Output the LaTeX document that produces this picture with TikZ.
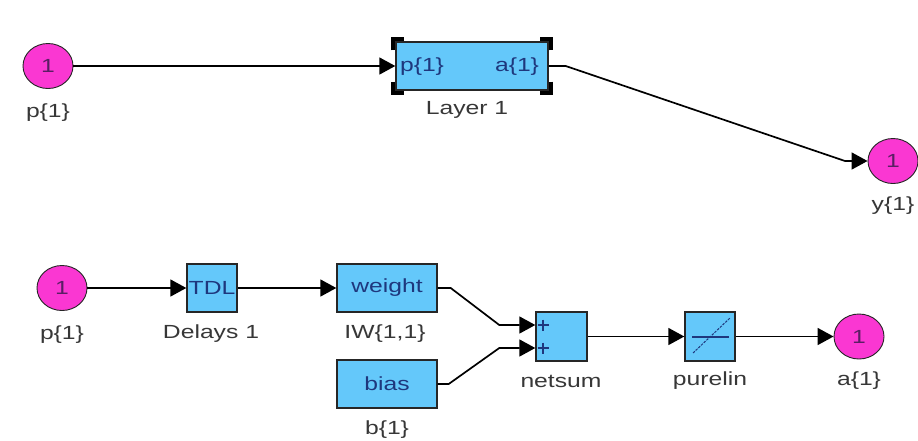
\documentclass[tikz,border=0pt]{standalone}
\usepackage{fontspec}
\setmainfont{Liberation Sans}[FakeStretch=1.3]
\usetikzlibrary{arrows.meta,shapes.geometric}
\definecolor{boxblue}{RGB}{100,200,250}
\definecolor{pinkc}{RGB}{250,55,210}
\definecolor{txtblue}{RGB}{30,55,125}
\definecolor{txtpurple}{RGB}{90,30,100}
\definecolor{lblgray}{RGB}{55,55,55}
\begin{document}
\begin{tikzpicture}[x=1pt,y=-1pt,
  circ/.style={ellipse,draw=black!85,line width=0.9pt,fill=pinkc,minimum width=50pt,minimum height=45pt,inner sep=0pt,font=\fontsize{19}{21}\selectfont,text=txtpurple},
  blk/.style={rectangle,draw=black!85,line width=1.4pt,fill=boxblue,inner sep=0pt,font=\fontsize{19}{22}\selectfont,text=txtblue},
  intext/.style={inner sep=0pt,font=\fontsize{19}{22}\selectfont,text=txtblue},
  lbl/.style={font=\fontsize{19}{22}\selectfont,text=lblgray,inner sep=0pt},
  conn/.style={draw=black,line width=1.7pt,-{Triangle[length=16pt,width=17pt]}},
  handle/.style={draw=black,line width=3.5pt,line join=miter},
  glyph/.style={draw=txtblue,line width=1.6pt}]
\fill[white] (0,0) rectangle (918,440);
\useasboundingbox (0,0) rectangle (918,440);

% ---- top row ----
\node[circ] (p1) at (48,66) {1};
\node[lbl] (p1l) at (48,113) {p\{1\}};
\node[blk,minimum width=152pt,minimum height=48pt] (layer) at (472,66) {};
\node[intext] (lp) at (422,67) {p\{1\}};
\node[intext] (la) at (517,67) {a\{1\}};
\node[lbl] (layerl) at (467,110) {Layer 1};
\foreach \c/\ox/\oy in {north west/-1/-1, north east/1/-1, south west/-1/1, south east/1/1}{
  \draw[handle] ([shift={(\ox*2.5,-\oy*9)}]layer.\c) -- ([shift={(\ox*2.5,\oy*2.5)}]layer.\c) -- ([shift={(-\ox*9,\oy*2.5)}]layer.\c);
}
\node[circ] (y1) at (893,161) {1};
\node[lbl] (y1l) at (893,206) {y\{1\}};

\draw[conn] (p1) -- (layer);
\draw[conn] (layer.east) -- ++(17,0) -- (845,161) -- (y1.west);

% ---- bottom row ----
\node[circ] (p2) at (62,288) {1};
\node[lbl] (p2l) at (62,335) {p\{1\}};
\node[blk,minimum width=50pt,minimum height=48pt] (tdl) at (212,288) {TDL};
\node[lbl] (tdll) at (211,334) {Delays 1};
\node[blk,minimum width=100pt,minimum height=48pt] (weight) at (387,288) {weight};
\node[lbl] (weightl) at (385,334) {IW\{1,1\}};
\node[blk,minimum width=100pt,minimum height=48pt] (bias) at (387,384) {bias};
\node[lbl] (biasl) at (387,430) {b\{1\}};
\node[blk,minimum width=51pt,minimum height=49pt] (netsum) at (561.5,336.5) {};
\node[lbl] (netsuml) at (561,381) {netsum};
\node[blk,minimum width=50pt,minimum height=49pt] (purelin) at (710,336.5) {};
\node[lbl] (purelinl) at (710,381) {purelin};
\node[circ] (a1) at (859,336.5) {1};
\node[lbl] (a1l) at (859,381) {a\{1\}};

% glyphs inside netsum and purelin
\draw[glyph] ([shift={(-18.5,-11.5)}]netsum.center) ++(-5.5,0) -- ++(11,0) ++(-5.5,-5.5) -- ++(0,11);
\draw[glyph] ([shift={(-18.5,11.5)}]netsum.center) ++(-5.5,0) -- ++(11,0) ++(-5.5,-5.5) -- ++(0,11);
\draw[glyph] ([shift={(-18,0.5)}]purelin.center) -- ([shift={(19,0.5)}]purelin.center);
\draw[draw=txtblue,line width=1pt,dash pattern=on 2.5pt off 1.2pt] ([shift={(-17,16.5)}]purelin.center) -- ([shift={(20,-18.5)}]purelin.center);

\coordinate (in1) at ([yshift=11.5pt]netsum.west);
\coordinate (in2) at ([yshift=-11.5pt]netsum.west);

\draw[conn] (p2) -- (tdl);
\draw[conn] (tdl) -- (weight);
\draw[conn] (weight.east) -- ++(13,0) -- ([xshift=-36pt]in1) -- (in1);
\draw[conn] (bias.east) -- ++(11,0) -- ([xshift=-36pt]in2) -- (in2);
\draw[conn] (netsum) -- (purelin);
\draw[conn] (purelin) -- (a1);
\end{tikzpicture}
\end{document}
